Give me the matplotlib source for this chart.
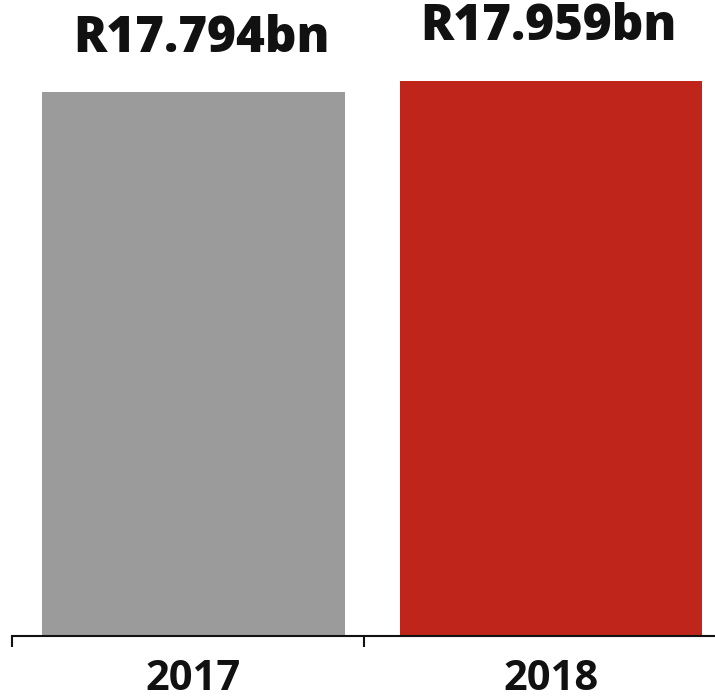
import matplotlib
matplotlib.use("Agg")
import matplotlib.pyplot as plt

# Revenue by year (R billion)
years = ["2017", "2018"]
revenue = [17.794, 17.959]
value_labels = ["R17.794bn", "R17.959bn"]
bar_colors = ["#9b9b9b", "#bf251b"]

plt.rcParams["font.family"] = ["Open Sans", "DejaVu Sans"]

fig = plt.figure(figsize=(7.15, 6.99), dpi=100)
ax = fig.add_axes([12 / 715, 1 - 635.5 / 699, 1 - 12 / 715, 635.5 / 699])

x = list(range(len(years)))
ax.bar(x, revenue, width=0.846, color=bar_colors, bottom=0, zorder=2)

ax.set_xlim(-0.508, 1.459)
ax.set_ylim(10.0, 19.114)

# value labels above each bar
label_shift = [6, -2]  # points
for xi, val, txt, dx in zip(x, revenue, value_labels, label_shift):
    ax.annotate(txt, xy=(xi, val), xytext=(dx, 29), textcoords="offset points",
                ha="center", va="baseline", fontsize=35.5, fontweight=800,
                color="#111111")

# category axis: labels centred under bars, tick marks at group boundaries
ax.set_xticks(x)
ax.set_xticklabels(years, fontsize=30, fontweight="bold", color="#111111")
ax.tick_params(axis="x", which="major", length=0, pad=17)
ax.set_xticks([-0.508, 0.478], minor=True)
ax.tick_params(axis="x", which="minor", length=8, width=1.5, color="#111111",
               direction="out")

ax.set_yticks([])
for side in ("top", "right", "left"):
    ax.spines[side].set_visible(False)
ax.spines["bottom"].set_linewidth(1.5)
ax.spines["bottom"].set_color("#111111")

fig.savefig("out.png", dpi=100)
